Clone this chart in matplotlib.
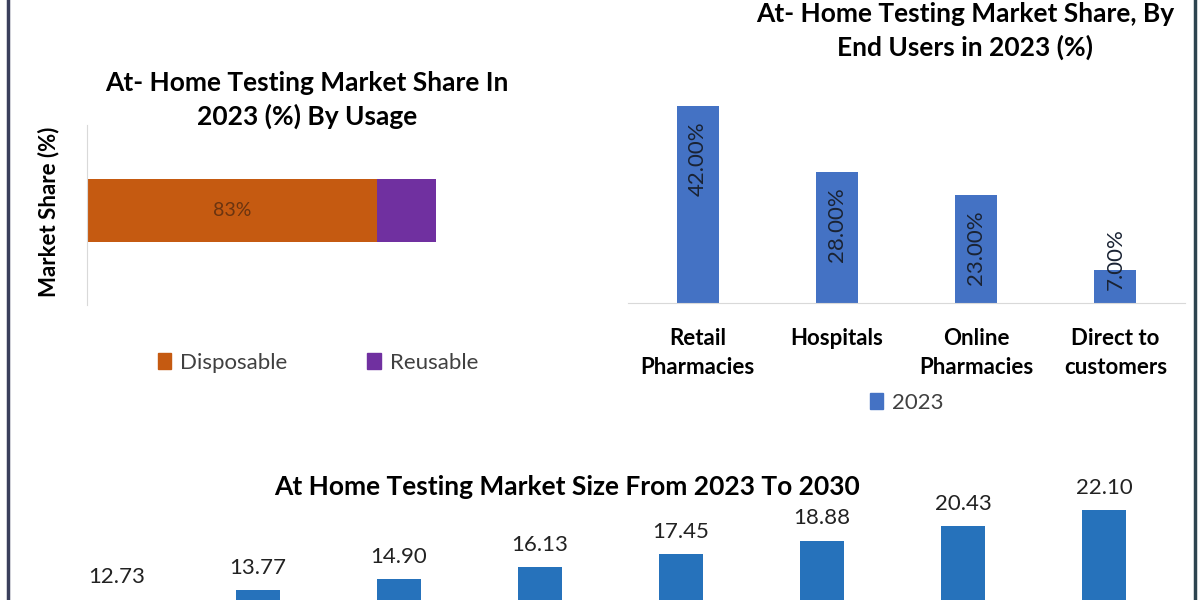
import matplotlib
matplotlib.use('Agg')
import matplotlib.pyplot as plt
from matplotlib.lines import Line2D
from matplotlib.patches import Patch

plt.rcParams['font.family'] = ['Lato', 'DejaVu Sans']

# usage split (2023)
usage_labels = ['Disposable', 'Reusable']
usage_values = [83, 17]
usage_colors = ['#C55A11', '#7030A0']

# end users (2023)
end_users = ['Retail\nPharmacies', 'Hospitals', 'Online\nPharmacies', 'Direct to\ncustomers']
end_share = [42.0, 28.0, 23.0, 7.0]

# market size 2023-2030
years = ['2023', '2024', '2025', '2026', '2027', '2028', '2029', '2030']
market_size = [12.73, 13.77, 14.90, 16.13, 17.45, 18.88, 20.43, 22.10]

W, H = 1200, 600
fig = plt.figure(figsize=(12, 6), dpi=100)
fig.patch.set_facecolor('white')


def px_axes(x0, y0, x1, y1):
    # pixel box (top-left origin) -> axes
    return fig.add_axes([x0 / W, 1 - y1 / H, (x1 - x0) / W, (y1 - y0) / H])


# ---- top left: stacked horizontal bar
ax1 = px_axes(87, 125, 436, 305)
left = 0
for lab, val, col in zip(usage_labels, usage_values, usage_colors):
    ax1.barh(0, val, left=left, height=0.35, color=col, label=lab)
    left += val
ax1.text(usage_values[0] / 2, 0, '%d%%' % usage_values[0], ha='center', va='center',
         fontsize=14, color='#6b3410')
ax1.set_xlim(0, sum(usage_values))
ax1.set_ylim(-0.525, 0.475)
for s in ['top', 'right', 'bottom']:
    ax1.spines[s].set_visible(False)
ax1.spines['left'].set_color('#d9d9d9')
ax1.set_xticks([])
ax1.set_yticks([])
ax1.set_ylabel('Market Share (%)', fontsize=16, fontweight='bold')
ax1.yaxis.set_label_coords(-0.08, 0.52)
fig.text(307 / W, 1 - 100 / H, 'At- Home Testing Market Share In\n2023 (%) By Usage',
         ha='center', va='center', fontsize=19, fontweight='bold', linespacing=1.42)
fig.legend(handles=[Patch(color=c, label=l) for l, c in zip(usage_labels, usage_colors)],
           loc='center', bbox_to_anchor=(318 / W, 1 - 363 / H), ncol=2, frameon=False,
           fontsize=16, handlelength=0.6, handleheight=0.7, columnspacing=3.6,
           handletextpad=0.4, labelcolor='#404040')

# ---- top right: end users
ax2 = px_axes(628, 92, 1185, 303)
x2 = range(len(end_users))
ax2.bar(x2, end_share, width=0.3, color='#4472C4', label='2023')
for i, v in zip(x2, end_share):
    if v > 15:
        ax2.annotate('%.2f%%' % v, (i, v), xytext=(0, -11), textcoords='offset points',
                     rotation=90, ha='center', va='top', fontsize=16, color='#1a2333')
    else:
        ax2.annotate('%.2f%%' % v, (i, 0), xytext=(0, 9), textcoords='offset points',
                     rotation=90, ha='center', va='bottom', fontsize=16, color='#1a2333')
ax2.set_xlim(-0.5, len(end_users) - 0.5)
ax2.set_ylim(0, 45)
for s in ['top', 'right', 'left']:
    ax2.spines[s].set_visible(False)
ax2.spines['bottom'].set_color('#d9d9d9')
ax2.set_yticks([])
ax2.set_xticks(list(x2))
ax2.set_xticklabels(end_users, fontsize=16, fontweight='bold', linespacing=1.45)
ax2.tick_params(axis='x', length=0, pad=18)
fig.text(965 / W, 1 - 31 / H, 'At- Home Testing Market Share, By\nEnd Users in 2023 (%)',
         ha='center', va='center', fontsize=19, fontweight='bold', linespacing=1.45)
fig.legend(handles=[Patch(color='#4472C4', label='2023')], loc='center',
           bbox_to_anchor=(907 / W, 1 - 403 / H), frameon=False, fontsize=16,
           handlelength=0.6, handleheight=0.7, handletextpad=0.4, labelcolor='#404040')

# ---- bottom: market size
ax3 = px_axes(46.5, 470, 1174.5, 600)
x3 = range(len(years))
ax3.bar(x3, market_size, width=0.31, color='#2672BB')
for i, v in zip(x3, market_size):
    ax3.annotate('%.2f' % v, (i, v), xytext=(0, 16), textcoords='offset points',
                 ha='center', va='center', fontsize=16, color='#222222')
ax3.set_xlim(-0.5, len(years) - 0.5)
ax3.set_ylim(12.7, 26.25)
ax3.axis('off')
fig.text(567 / W, 1 - 487 / H, 'At Home Testing Market Size From 2023 To 2030',
         ha='center', va='center', fontsize=19, fontweight='bold')

# frame lines left / right
fig.add_artist(Line2D([7.5 / W, 7.5 / W], [0, 1], color='#3a3f5c', lw=2.5))
fig.add_artist(Line2D([1195 / W, 1195 / W], [0, 1], color='#2d4450', lw=2.5))

fig.savefig('out.png', dpi=100)
